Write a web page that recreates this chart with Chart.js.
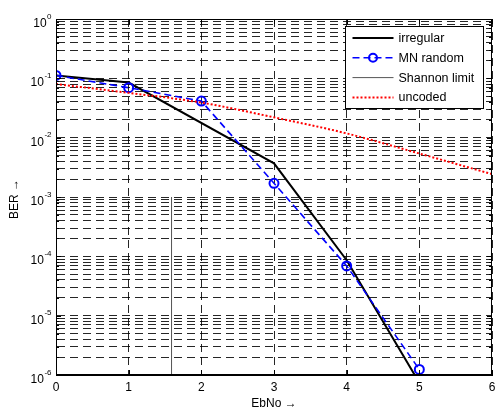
<!DOCTYPE html>
<html><head><meta charset="utf-8">
<script src="https://cdn.jsdelivr.net/npm/chart.js@4"></script>
<style>html,body{margin:0;padding:0;background:#fff}#wrap{width:496px;height:413px}</style>
</head><body><div id="wrap"><canvas id="c" width="496" height="413"></canvas></div>
<script>
// ---- data ----
const irregularX = [0, 1, 3, 4, 5];
const irregularBER = [0.112, 0.085, 0.0037, 8.6e-5, 7.4e-7];
const mnX = [0, 1, 2, 3, 4, 5];
const mnBER = [0.112, 0.0695, 0.0414, 0.0017, 6.9e-5, 1.24e-6];
const shannonX = [1.59, 1.59];
const shannonBER = [1e-6, 1e-3];
const uncodedX = [0, 1, 2, 3, 4, 5, 6];
const uncodedBER = [0.080, 0.057, 0.039, 0.022, 0.0118, 0.0054, 0.00243];
const xTickValues = [0, 1, 2, 3, 4, 5, 6];
const yDecades = [-6, -5, -4, -3, -2, -1, 0];
const seriesNames = ['irregular', 'MN random', 'Shannon limit', 'uncoded'];
const xTitle = 'EbNo \u2192';
const yTitle = 'BER \u2192';

const FONT = "'Liberation Sans', Arial, Helvetica, sans-serif";
const pts = (xs, ys) => xs.map((x, i) => ({x: x, y: ys[i]}));

const yTickList = [];
yDecades.forEach(d => {
  if (d === 0) { yTickList.push({value: 1, major: true}); return; }
  for (let k = 1; k <= 9; k++) {
    yTickList.push({value: Number((k * Math.pow(10, d)).toPrecision(3)), major: k === 1});
  }
});

const framePlugin = {
  id: 'frame',
  afterDraw(chart) {
    const ctx = chart.ctx;
    const a = chart.chartArea;
    const xs = chart.scales.x, ys = chart.scales.y;
    ctx.save();
    // box
    ctx.strokeStyle = '#000'; ctx.lineWidth = 1; ctx.setLineDash([]);
    ctx.strokeRect(Math.round(a.left) + 0.5, Math.round(a.top) + 0.5,
                   Math.round(a.right - a.left) - 1, Math.round(a.bottom - a.top) - 1);
    // inside ticks
    ctx.beginPath();
    yTickList.forEach(t => {
      const y = Math.round(ys.getPixelForValue(t.value)) + 0.5;
      const L = t.major ? 5 : 3;
      ctx.moveTo(a.left, y); ctx.lineTo(a.left + L, y);
      ctx.moveTo(a.right, y); ctx.lineTo(a.right - L, y);
    });
    xTickValues.forEach(v => {
      const x = Math.round(xs.getPixelForValue(v)) + 0.5;
      ctx.moveTo(x, a.bottom); ctx.lineTo(x, a.bottom - 5);
      ctx.moveTo(x, a.top); ctx.lineTo(x, a.top + 5);
    });
    ctx.stroke();
    // y tick labels 10^d
    ctx.fillStyle = '#000';
    yDecades.forEach(d => {
      const y = ys.getPixelForValue(Math.pow(10, d));
      const exp = String(d);
      ctx.font = '8px ' + FONT;
      const ew = ctx.measureText(exp).width;
      ctx.textAlign = 'left'; ctx.textBaseline = 'alphabetic';
      const expX = 51.5 - ew;
      ctx.fillText(exp, expX, y - 0.5);
      ctx.font = '12px ' + FONT;
      ctx.textAlign = 'right';
      ctx.fillText('10', expX - 0.5, y + 8);
    });
    // axis titles
    ctx.font = '12px ' + FONT;
    ctx.textAlign = 'center'; ctx.textBaseline = 'middle';
    ctx.fillText(xTitle, (a.left + a.right) / 2, 404);
    ctx.save();
    ctx.translate(15, (a.top + a.bottom) / 2 + 2);
    ctx.rotate(-Math.PI / 2);
    ctx.fillText(yTitle, 0, 0);
    ctx.restore();
    // legend
    const lx = 345.5, ly = 26.5, lw = 138, lh = 82;
    ctx.fillStyle = '#fff';
    ctx.fillRect(lx, ly, lw, lh);
    ctx.strokeStyle = '#000'; ctx.lineWidth = 1;
    ctx.strokeRect(lx, ly, lw, lh);
    const rows = [38, 57.8, 77.6, 97.4];
    chart.data.datasets.forEach((ds, i) => {
      const y = rows[i];
      ctx.save();
      ctx.strokeStyle = ds.borderColor;
      ctx.lineWidth = ds.borderWidth;
      ctx.setLineDash(ds.borderDash || []);
      ctx.beginPath(); ctx.moveTo(352.5, y); ctx.lineTo(393.5, y); ctx.stroke();
      if (ds.pointRadius > 0) {
        ctx.setLineDash([]);
        ctx.lineWidth = ds.pointBorderWidth;
        ctx.beginPath(); ctx.arc(373, y, 4, 0, Math.PI * 2); ctx.stroke();
      }
      ctx.restore();
      ctx.fillStyle = '#000';
      ctx.font = '12.5px ' + FONT;
      ctx.textAlign = 'left'; ctx.textBaseline = 'middle';
      ctx.fillText(ds.label, 398.5, y + 0.5);
    });
    ctx.restore();
  }
};

new Chart(document.getElementById('c'), {
  type: 'line',
  data: {
    datasets: [
      {label: seriesNames[0], data: pts(irregularX, irregularBER), borderColor: '#000', borderWidth: 2,
       pointRadius: 0, tension: 0, order: 3},
      {label: seriesNames[1], data: pts(mnX, mnBER), borderColor: '#0000ff', borderWidth: 1.6,
       borderDash: [7, 4], pointRadius: 4.5, pointBorderWidth: 2, pointBorderColor: '#0000ff',
       pointBackgroundColor: 'rgba(0,0,0,0)', tension: 0, order: 2},
      {label: seriesNames[2], data: pts(shannonX, shannonBER), borderColor: '#555', borderWidth: 1,
       pointRadius: 0, tension: 0, order: 1},
      {label: seriesNames[3], data: pts(uncodedX, uncodedBER), borderColor: '#ff0000', borderWidth: 2,
       borderDash: [2, 2], pointRadius: 0, cubicInterpolationMode: 'monotone', order: 0}
    ]
  },
  options: {
    responsive: false,
    devicePixelRatio: 1,
    animation: false,
    layout: {autoPadding: false, padding: {left: 0, right: 4, top: 19, bottom: 0}},
    plugins: {legend: {display: false}, tooltip: {enabled: false}},
    scales: {
      x: {
        type: 'linear', min: 0, max: 6,
        afterBuildTicks: s => { s.ticks = xTickValues.map(v => ({value: v})); },
        afterFit: s => { s.height = 38; s.paddingLeft = 0; s.paddingRight = 0; },
        ticks: {color: '#000', font: {size: 12, family: FONT}, padding: 5, maxRotation: 0},
        grid: {color: 'rgba(0,0,0,0.85)', lineWidth: 1, drawTicks: false},
        border: {color: '#000', width: 1, dash: [8, 5]}
      },
      y: {
        type: 'logarithmic', min: 1e-6, max: 1,
        afterBuildTicks: s => { s.ticks = yTickList.map(t => ({value: t.value, major: t.major})); },
        afterFit: s => { s.width = 56; s.paddingTop = 0; s.paddingBottom = 0; },
        ticks: {display: false},
        grid: {color: 'rgba(0,0,0,0.85)', lineWidth: 1, drawTicks: false},
        border: {color: '#000', width: 1, dash: [8, 5]}
      }
    }
  },
  plugins: [framePlugin]
});
</script>
</body></html>
